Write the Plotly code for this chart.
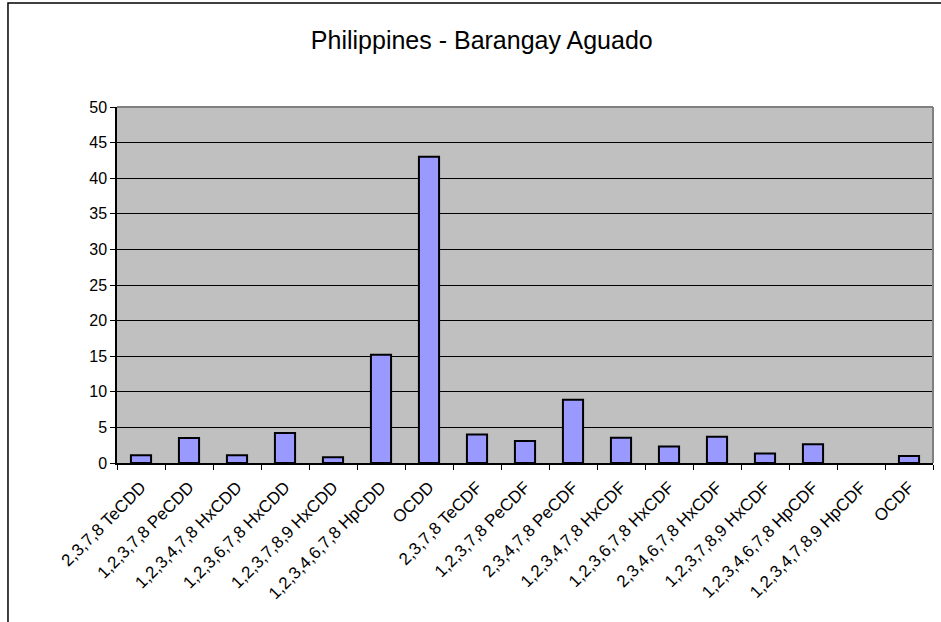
import plotly.graph_objects as go

congeners = ["2,3,7,8 TeCDD", "1,2,3,7,8 PeCDD", "1,2,3,4,7,8 HxCDD", "1,2,3,6,7,8 HxCDD",
             "1,2,3,7,8,9 HxCDD", "1,2,3,4,6,7,8 HpCDD", "OCDD", "2,3,7,8 TeCDF",
             "1,2,3,7,8 PeCDF", "2,3,4,7,8 PeCDF", "1,2,3,4,7,8 HxCDF", "1,2,3,6,7,8 HxCDF",
             "2,3,4,6,7,8 HxCDF", "1,2,3,7,8,9 HxCDF", "1,2,3,4,6,7,8 HpCDF", "1,2,3,4,7,8,9 HpCDF",
             "OCDF"]
values = [1.1, 3.5, 1.1, 4.2, 0.8, 15.2, 43.0, 4.0, 3.1, 8.9, 3.55, 2.3, 3.7, 1.35, 2.65, 0.0, 1.0]
y_ticks = list(range(0, 51, 5))

font = "Liberation Sans, Arial, sans-serif"

fig = go.Figure()
# zero-height bars get no outline, as in the original
fig.add_bar(x=congeners, y=values, marker_color="#9999FF",
            marker_line=dict(color="black", width=[2 if v > 0 else 0 for v in values]),
            showlegend=False)

# plot area border (gray top/right) and outer chart frame
fig.add_shape(type="line", xref="x domain", yref="y domain", x0=0, x1=1, y0=1, y1=1,
              line=dict(color="#808080", width=2))
fig.add_shape(type="line", xref="x domain", yref="y domain", x0=1, x1=1, y0=0, y1=1,
              line=dict(color="#808080", width=2))
fig.add_shape(type="rect", xref="paper", yref="paper", x0=-0.1336, x1=1.02, y0=-0.5, y1=1.292,
              line=dict(color="black", width=1.5), layer="below")

fig.update_layout(
    width=941, height=622,
    margin=dict(l=117, r=8, t=107, b=159),
    paper_bgcolor="white", plot_bgcolor="#C0C0C0",
    font=dict(family=font, color="black"),
    title=dict(text="Philippines - Barangay Aguado", font=dict(size=25, family=font),
               x=0.512, xanchor="center", xref="container", y=0.935, yanchor="middle", yref="container"),
    bargap=0.58,
)
fig.update_xaxes(type="category", tickangle=-45, tickfont=dict(size=17), showline=True,
                 linecolor="black", linewidth=1.5, ticks="outside", tickson="boundaries",
                 ticklen=5, tickcolor="black", showgrid=False, ticklabelstandoff=6)
fig.update_yaxes(range=[0, 50], tickvals=y_ticks, tickfont=dict(size=16), showline=True,
                 linecolor="black", linewidth=1.5, ticks="outside", ticklen=5, tickcolor="black",
                 gridcolor="black", gridwidth=1, zeroline=False)

fig.write_html("out.html", config={"displayModeBar": False},
               post_script="document.body.style.margin='0';")
